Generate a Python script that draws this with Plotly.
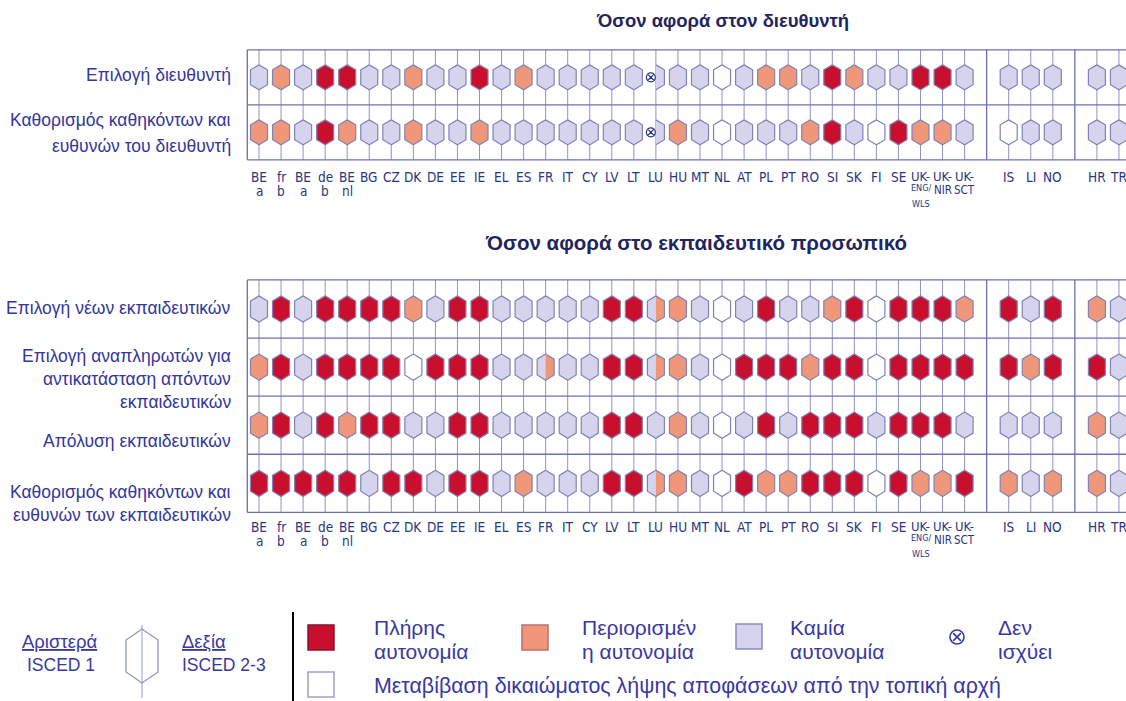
import plotly.graph_objects as go

# ---------------- data ----------------
columns = ["BE fr a", "BE fr b", "BE de a", "BE de b", "BE nl", "BG", "CZ", "DK", "DE", "EE",
           "IE", "EL", "ES", "FR", "IT", "CY", "LV", "LT", "LU", "HU", "MT", "NL", "AT", "PL",
           "PT", "RO", "SI", "SK", "FI", "SE", "UK-ENG/WLS", "UK-NIR", "UK-SCT",
           "IS", "LI", "NO", "HR", "TR"]
group_sizes = [33, 3, 2]

label_line1 = ["BE", "fr", "BE", "de", "BE", "BG", "CZ", "DK", "DE", "EE", "IE", "EL", "ES", "FR",
               "IT", "CY", "LV", "LT", "LU", "HU", "MT", "NL", "AT", "PL", "PT", "RO", "SI", "SK",
               "FI", "SE", "UK-", "UK-", "UK-", "IS", "LI", "NO", "HR", "TR"]
label_line2 = ["a", "b", "a", "b", "nl"] + [""] * 25 + ["ENG/", "NIR", "SCT"] + [""] * 5
label_line3 = [""] * 30 + ["WLS"] + [""] * 7

# codes: F full autonomy, L limited, N none, D devolved by local authority, X not applicable
# "A/B" = left half (ISCED 1) / right half (ISCED 2-3)
head_selection = ["N", "L", "N", "F", "F", "N", "N", "L", "N", "N", "F", "N", "L", "N", "N", "N", "N", "N",
                  "X/N", "N", "N", "D", "N", "L", "L", "N", "F", "L", "N", "N", "F", "F", "N",
                  "N", "N", "N", "N", "N"]
head_duties = ["L", "L", "N", "F", "L", "N", "N", "L", "N", "N", "L", "N", "N", "N", "N", "N", "N", "N",
               "X/N", "L", "N", "D", "N", "N", "N", "L", "F", "N", "D", "F", "L", "L", "N",
               "D", "N", "N", "N", "N"]
teacher_new = ["N", "F", "N", "F", "F", "F", "F", "L", "N", "F", "F", "N", "N", "N", "N", "N", "F", "F",
               "N/L", "L", "N", "D", "N", "F", "N", "N", "L", "F", "D", "F", "F", "F", "L",
               "F", "N", "F", "L", "N"]
teacher_substitute = ["L", "F", "N", "F", "F", "F", "F", "D", "F", "F", "F", "N", "N", "N/L", "N", "N", "F", "F",
                      "N/L", "L", "N", "D", "F", "F", "F", "L", "F", "F", "D", "F", "F", "F", "F",
                      "F", "L", "F", "F", "N"]
teacher_dismissal = ["L", "F", "N", "F", "L", "F", "F", "N", "N", "F", "F", "N", "N", "N", "N", "N", "F", "F",
                     "N", "L", "N", "D", "N", "F", "N", "F", "F", "F", "N", "F", "F", "F", "N",
                     "N", "N", "N", "L", "N"]
teacher_duties = ["F", "F", "F", "F", "F", "N", "F", "F", "N", "F", "F", "N", "L", "N", "N", "N", "F", "F",
                  "N/L", "L", "N", "D", "F", "L", "L", "F", "F", "F", "D", "F", "L", "L", "F",
                  "L", "N", "L", "L", "N"]

top_rows = [head_selection, head_duties]
bottom_rows = [teacher_new, teacher_substitute, teacher_dismissal, teacher_duties]

top_title = "Όσον αφορά στον διευθυντή"
bottom_title = "Όσον αφορά στο εκπαιδευτικό προσωπικό"
top_row_labels = [["Επιλογή διευθυντή"], ["Καθορισμός καθηκόντων και", "ευθυνών του διευθυντή"]]
bottom_row_labels = [["Επιλογή νέων εκπαιδευτικών"],
                     ["Επιλογή αναπληρωτών για", "αντικατάσταση απόντων", "εκπαιδευτικών"],
                     ["Απόλυση εκπαιδευτικών"],
                     ["Καθορισμός καθηκόντων και", "ευθυνών των εκπαιδευτικών"]]

legend_names = {"F": ["Πλήρης", "αυτονομία"], "L": ["Περιορισμέν", "η αυτονομία"],
                "N": ["Καμία", "αυτονομία"], "X": ["Δεν", "ισχύει"],
                "D": ["Μεταβίβαση δικαιώματος λήψης αποφάσεων από την τοπική αρχή"]}

# ---------------- style ----------------
COL = {"F": "#c8102e", "L": "#f0977a", "N": "#d6d3ec", "D": "#ffffff"}
HEX_LINE = "#7f83b8"
GRID = "#8e93c6"
FRAME = "#6b70b0"
LABEL_C = "#2a3585"
ROWLAB_C = "#3236a0"
LEG_C = "#3838a5"
TITLE_C = "#1f2560"

FW, FH = 1126, 701


def px(x):
    return x / FW


def py(y):
    return 1 - y / FH


# column positions (gap of one slot between country groups)
pos = []
g0 = 0
for gi, n in enumerate(group_sizes):
    pos += [g0 + k for k in range(n)]
    g0 += n + 1
separators = []
acc = 0
for gi, n in enumerate(group_sizes[:-1]):
    acc += n
    separators.append(acc + gi)

# axis scales: column 0 at screen x=259, 22.05 px per column
X0, DX = 259, 22.05
x_range = [-X0 / DX, (FW - X0) / DX]
# top panel rows: row 0 at y=77.3, 55 px per row
T0, TD = 77.3, 55.0
y_range = [(FH - T0) / TD, -T0 / TD]
# bottom panel rows: row 0 at y=309, 58.1 px per row
B0, BD = 309, 58.1
y2_range = [(FH - B0) / BD, -B0 / BD]

HW = 8.5 / DX       # half width in columns
HH = 0.226          # half height in rows
SH = 0.09           # shoulder

fig = go.Figure()


def add_panel(rows, yref):
    nrow = len(rows)
    left_edge = -0.53
    right_edge = pos[-1] + 3
    gx, gy = [], []
    for p in pos:
        gx += [p, p, None]
        gy += [-0.5, nrow - 0.5, None]
    fig.add_trace(go.Scatter(x=gx, y=gy, mode="lines", line=dict(color=GRID, width=1),
                             yaxis=yref, hoverinfo="skip", showlegend=False))
    fx, fy = [], []
    for r in range(nrow + 1):
        fx += [left_edge, right_edge, None]
        fy += [r - 0.5, r - 0.5, None]
    for s in [left_edge] + separators:
        fx += [s, s, None]
        fy += [-0.5, nrow - 0.5, None]
    fig.add_trace(go.Scatter(x=fx, y=fy, mode="lines", line=dict(color=FRAME, width=1.3),
                             yaxis=yref, hoverinfo="skip", showlegend=False))
    polys = {k: ([], []) for k in COL}
    ox, oy = [], []
    nx, ny = [], []
    for r, row in enumerate(rows):
        for c, code in enumerate(row):
            cx = pos[c]
            parts = code.split("/")
            lc, rc = (parts[0], parts[-1])
            top, bot = r - HH, r + HH
            for side, cc in ((-1, lc), (1, rc)):
                if cc == "X":
                    nx.append(cx - 0.23)
                    ny.append(r)
                    continue
                xs = [cx, cx + side * HW, cx + side * HW, cx, cx, None]
                ys = [top, top + SH, bot - SH, bot, top, None]
                polys[cc][0].extend(xs)
                polys[cc][1].extend(ys)
            if "X" not in (lc, rc):
                ox += [cx, cx + HW, cx + HW, cx, cx - HW, cx - HW, cx, None]
                oy += [top, top + SH, bot - SH, bot, bot - SH, top + SH, top, None]
            else:
                side = 1 if lc == "X" else -1
                ox += [cx, cx + side * HW, cx + side * HW, cx, None]
                oy += [top, top + SH, bot - SH, bot, None]
    for k, (xs, ys) in polys.items():
        if xs:
            fig.add_trace(go.Scatter(x=xs, y=ys, mode="lines", fill="toself", fillcolor=COL[k],
                                     line=dict(width=0, color=COL[k]), yaxis=yref,
                                     hoverinfo="skip", showlegend=False))
    fig.add_trace(go.Scatter(x=ox, y=oy, mode="lines", line=dict(color=HEX_LINE, width=1.2),
                             yaxis=yref, hoverinfo="skip", showlegend=False))
    if nx:
        fig.add_trace(go.Scatter(x=nx, y=ny, mode="markers", yaxis=yref,
                                 marker=dict(symbol="circle-x", size=9, color="white",
                                             line=dict(color="#2d3580", width=1.2)),
                                 hoverinfo="skip", showlegend=False))


add_panel(top_rows, "y")
add_panel(bottom_rows, "y2")

ann = []
LAB_FONT = "Liberation Sans Narrow, DejaVu Sans Condensed, Arial Narrow, sans-serif"


def col_labels(y1):
    for c in range(len(columns)):
        s1 = 13 if label_line1[c] == "UK-" else 13.5
        ann.append(dict(x=pos[c], xref="x", y=py(y1), yref="paper", text=label_line1[c],
                        showarrow=False, yanchor="middle", xanchor="center",
                        font=dict(family=LAB_FONT, size=s1, color=LABEL_C)))
        if label_line2[c]:
            t2 = label_line2[c]
            if t2 == "ENG/":
                s2, dy = 9, 11.5
            elif t2 in ("NIR", "SCT"):
                s2, dy = 11.5, 13
            else:
                s2, dy = 13.5, 14
            ann.append(dict(x=pos[c], xref="x", y=py(y1 + dy), yref="paper",
                            text=t2, showarrow=False, yanchor="middle", xanchor="center",
                            font=dict(family=LAB_FONT, size=s2, color=LABEL_C)))
        if label_line3[c]:
            ann.append(dict(x=pos[c], xref="x", y=py(y1 + 27), yref="paper", text=label_line3[c],
                            showarrow=False, yanchor="middle", xanchor="center",
                            font=dict(family=LAB_FONT, size=9, color=LABEL_C)))


col_labels(176.7)
col_labels(526.7)

ann.append(dict(x=px(722), y=py(20), xref="paper", yref="paper", text="<b>" + top_title + "</b>",
                showarrow=False, xanchor="center", yanchor="middle",
                font=dict(family="Liberation Sans, Arial", size=18.5, color=TITLE_C)))
ann.append(dict(x=px(696), y=py(242), xref="paper", yref="paper", text="<b>" + bottom_title + "</b>",
                showarrow=False, xanchor="center", yanchor="middle",
                font=dict(family="Liberation Sans, Arial", size=20.5, color=TITLE_C)))

row_label_y = [[75], [120, 146], [308], [356, 379, 402], [441], [492, 515]]
for lines, ys in zip(top_row_labels + bottom_row_labels, row_label_y):
    for t, yy in zip(lines, ys):
        ann.append(dict(x=px(233), y=py(yy), xref="paper", yref="paper", text=t, showarrow=False,
                        xanchor="right", yanchor="middle",
                        font=dict(family="Liberation Sans, Arial", size=17.5, color=ROWLAB_C)))

# legend
LF = dict(family="Liberation Sans, Arial", size=21, color=LEG_C)
LFL = dict(family="Liberation Sans, Arial", size=17.5, color=LEG_C)
ann.append(dict(x=px(60), y=py(641), xref="paper", yref="paper", text="<u>Αριστερά</u>",
                showarrow=False, xanchor="center", yanchor="middle",
                font=dict(family="Liberation Sans, Arial", size=18.5, color=LEG_C)))
ann.append(dict(x=px(61), y=py(665), xref="paper", yref="paper", text="ISCED 1", showarrow=False,
                xanchor="center", yanchor="middle", font=LFL))
ann.append(dict(x=px(204), y=py(641), xref="paper", yref="paper", text="<u>Δεξία</u>",
                showarrow=False, xanchor="center", yanchor="middle",
                font=dict(family="Liberation Sans, Arial", size=18.5, color=LEG_C)))
ann.append(dict(x=px(224), y=py(665), xref="paper", yref="paper", text="ISCED 2-3",
                showarrow=False, xanchor="center", yanchor="middle", font=LFL))

shapes = []
shapes.append(dict(type="line", xref="paper", yref="paper", x0=px(142), x1=px(142), y0=py(625), y1=py(698),
                   line=dict(color="#b5bcd8", width=1.5)))
hexpath = "M {a},{b} L {c},{d} L {c},{e} L {a},{f} L {g},{e} L {g},{d} Z".format(
    a=px(142), b=py(629), c=px(158), d=py(640), e=py(672), f=py(683), g=px(126))
shapes.append(dict(type="path", xref="paper", yref="paper", path=hexpath,
                   line=dict(color="#8f97c8", width=1.3)))
shapes.append(dict(type="line", xref="paper", yref="paper", x0=px(293), x1=px(293), y0=py(612), y1=py(701),
                   line=dict(color="black", width=2)))

# "not applicable" legend symbol: circle with a cross
CXs, CYs, R = 957, 637, 7
shapes.append(dict(type="circle", xref="paper", yref="paper", x0=px(CXs - R), x1=px(CXs + R),
                   y0=py(CYs - R), y1=py(CYs + R), line=dict(color=LEG_C, width=1.6)))
d = R * 0.55
for sx in (-1, 1):
    shapes.append(dict(type="line", xref="paper", yref="paper", x0=px(CXs - d), x1=px(CXs + d),
                       y0=py(CYs - sx * d), y1=py(CYs + sx * d), line=dict(color=LEG_C, width=1.6)))

legend_boxes = [("F", 308, 625, "#8a1030"), ("L", 522, 625, "#b97070"), ("N", 736, 624, "#8a8cc0"),
                ("D", 308, 672, "#9aa0cc")]
legend_text_x = {"F": 372, "L": 580, "N": 788, "D": 372}
for k, x0, y0, lc in legend_boxes:
    shapes.append(dict(type="rect", xref="paper", yref="paper", x0=px(x0), x1=px(x0 + 26),
                       y0=py(y0), y1=py(y0 + 25), fillcolor=COL[k], line=dict(color=lc, width=1.5)))
    lines = legend_names[k]
    if len(lines) == 2:
        for t, yy in zip(lines, [627, 651]):
            ann.append(dict(x=px(legend_text_x[k]), y=py(yy), xref="paper", yref="paper", text=t,
                            showarrow=False, xanchor="left", yanchor="middle", font=LF))
    else:
        ann.append(dict(x=px(legend_text_x[k]), y=py(686), xref="paper", yref="paper", text=lines[0],
                        showarrow=False, xanchor="left", yanchor="middle",
                        font=dict(family="Liberation Sans, Arial", size=21.4, color=LEG_C)))
for t, yy in zip(legend_names["X"], [627, 651]):
    ann.append(dict(x=px(996), y=py(yy), xref="paper", yref="paper", text=t, showarrow=False,
                    xanchor="left", yanchor="middle", font=LF))

fig.update_layout(
    width=FW, height=FH, margin=dict(l=0, r=0, t=0, b=0),
    paper_bgcolor="white", plot_bgcolor="white",
    xaxis=dict(range=x_range, visible=False, fixedrange=True, domain=[0, 1]),
    yaxis=dict(range=y_range, visible=False, fixedrange=True, domain=[0, 1]),
    yaxis2=dict(range=y2_range, visible=False, fixedrange=True, overlaying="y", anchor="x"),
    annotations=ann, shapes=shapes, showlegend=False,
)

fig.write_html("out.html", config={"displayModeBar": False},
               post_script="document.body.style.margin='0px';")
